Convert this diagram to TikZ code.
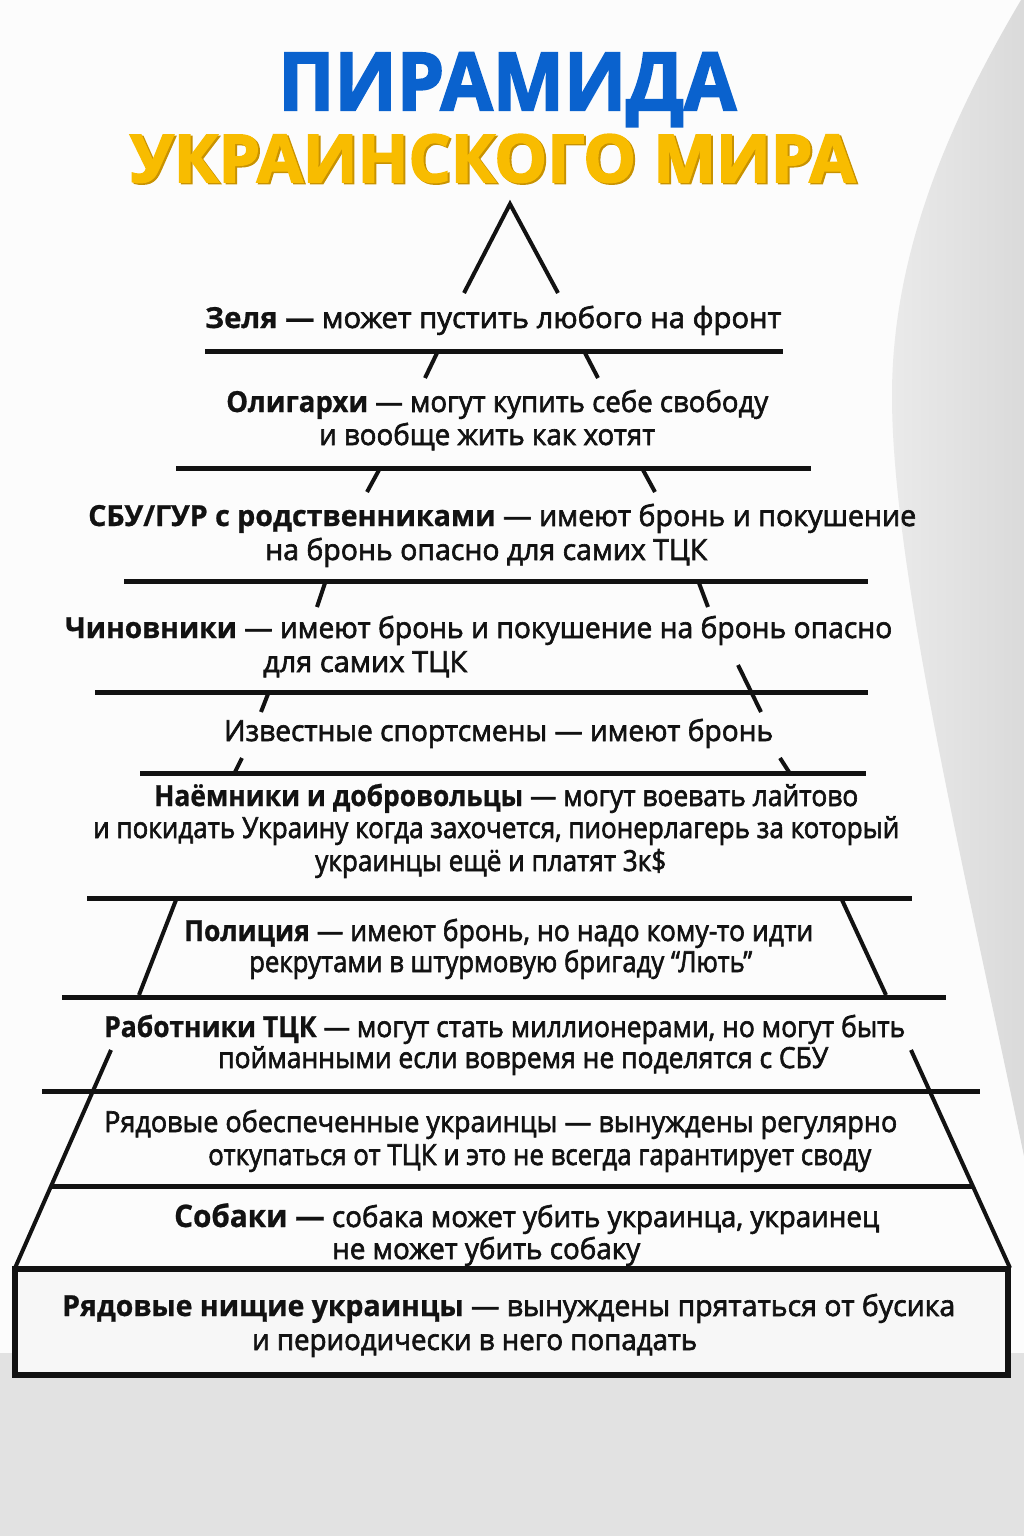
\documentclass[tikz,border=0pt]{standalone}
\usepackage{fontspec}
\usepackage{graphicx}
\setmainfont{Open Sans}
\newfontfamily\descfont[FakeBold=2.2]{Open Sans}
\newfontfamily\namefont[FakeBold=0.8]{Open Sans}
\newfontfamily\titlefont[FakeBold=2.5]{Open Sans}
\definecolor{ink}{HTML}{121212}
\definecolor{tblue}{HTML}{0A62CE}
\definecolor{tyellow}{HTML}{F8BC00}
\definecolor{tshadow}{HTML}{C89200}
\definecolor{bgwhite}{HTML}{FCFCFC}
\definecolor{bandgrey}{HTML}{DADADA}
\definecolor{bandlight}{HTML}{EAEAEA}
\definecolor{botgrey}{HTML}{E2E2E2}
\definecolor{boxfill}{HTML}{F7F7F7}
\newcommand{\fitw}[2]{\resizebox{#1pt}{\height}{#2}}
\newcommand{\nm}[1]{{\namefont\bfseries #1}}
\begin{document}
\begin{tikzpicture}[x=1pt,y=-1pt,
  hline/.style={line width=5pt, draw=ink},
  slant/.style={line width=4pt, draw=ink},
  txt/.style={inner sep=0pt, anchor=base west, text=ink, font=\descfont\fontsize{29}{31}\selectfont},
  ttl/.style={inner sep=0pt, anchor=base west, font=\titlefont\bfseries}]
\useasboundingbox (0,0) rectangle (1024,1536);
% background
\fill[bgwhite] (0,0) rectangle (1024,1536);
\shade[left color=bandlight, right color=bandgrey]
  (1024,0) -- (1021,0) .. controls (950,120) and (893,250) .. (892,392)
  .. controls (891,560) and (960,850) .. (1024,1156) -- cycle;
\fill[botgrey] (0,1353) rectangle (1024,1536);

% title
\node[ttl, text=tblue] (t1) at (278,110) {\fitw{458}{\fontsize{80}{80}\selectfont ПИРАМИДА}};
\node[ttl, text=tshadow] (t2s) at (132,183.5) {\fitw{725}{\fontsize{66}{66}\selectfont УКРАИНСКОГО МИРА}};
\node[ttl, text=tyellow] (t2) at (130,182) {\fitw{725}{\fontsize{66}{66}\selectfont УКРАИНСКОГО МИРА}};

% apex
\coordinate (apL) at (464,293);
\coordinate (apT) at (510,204);
\coordinate (apR) at (558,293);
\draw[slant, line join=miter] (apL) -- (apT) -- (apR);

% level lines
\coordinate (l1a) at (205,351); \coordinate (l1b) at (783,351);
\coordinate (l2a) at (176,468); \coordinate (l2b) at (811,468);
\coordinate (l3a) at (124,581); \coordinate (l3b) at (868,581);
\coordinate (l4a) at (95,692);  \coordinate (l4b) at (868,692);
\coordinate (l5a) at (140,773); \coordinate (l5b) at (866,773);
\coordinate (l6a) at (87,898);  \coordinate (l6b) at (912,898);
\coordinate (l7a) at (62,997);  \coordinate (l7b) at (946,997);
\coordinate (l8a) at (42,1091); \coordinate (l8b) at (980,1091);
\coordinate (l9a) at (52,1186); \coordinate (l9b) at (972,1186);
\foreach \i in {1,...,9} \draw[hline] (l\i a) -- (l\i b);

% short slants
\draw[slant] (437,353) -- (425,378);
\draw[slant] (585,353) -- (598,378);
\draw[slant] (379,470) -- (367,492);
\draw[slant] (643,470) -- (655,492);
\draw[slant] (325,583) -- (317,607);
\draw[slant] (699,583) -- (708,607);
\draw[slant] (268,694) -- (261,712);
\draw[slant] (738,665) -- (761,712);
\draw[slant] (242,758) -- (235,772);
\draw[slant] (780,758) -- (789,772);

% police trapezoid sides
\draw[slant] (176,900) -- (139,995);
\draw[slant] (842,900) -- (886,995);

% lower trapezoid sides
\draw[slant] (111,1050) -- (15,1268);
\draw[slant] (911,1050) -- (1010,1268);

% bottom box
\draw[line width=6pt, draw=ink, fill=boxfill] (15,1269) rectangle (1008,1375);

% texts
\node[txt] (z1) at (205,328) {\fitw{576}{\nm{Зеля —} может пустить любого на фронт}};
\node[txt] (o1) at (226,412) {\fitw{542}{\nm{Олигархи} — могут купить себе свободу}};
\node[txt] (o2) at (319,445) {\fitw{336}{и вообще жить как хотят}};
\node[txt] (s1) at (88,526) {\fitw{828}{\nm{СБУ/ГУР с родственниками} — имеют бронь и покушение}};
\node[txt] (s2) at (265,560) {\fitw{442}{на бронь опасно для самих ТЦК}};
\node[txt] (c1) at (65,638) {\fitw{827}{\nm{Чиновники} — имеют бронь и покушение на бронь опасно}};
\node[txt] (c2) at (263,672) {\fitw{204}{для самих ТЦК}};
\node[txt] (i1) at (224,741) {\fitw{549}{Известные спортсмены — имеют бронь}};
\node[txt] (n1) at (154,806) {\fitw{704}{\nm{Наёмники и добровольцы} — могут воевать лайтово}};
\node[txt] (n2) at (93,838) {\fitw{806}{и покидать Украину когда захочется, пионерлагерь за который}};
\node[txt] (n3) at (315,871) {\fitw{351}{украинцы ещё и платят 3к\$}};
\node[txt] (p1) at (184,941) {\fitw{629}{\nm{Полиция} — имеют бронь, но надо кому-то идти}};
\node[txt] (p2) at (249,972) {\fitw{503}{рекрутами в штурмовую бригаду “Лють”}};
\node[txt] (r1) at (104,1037) {\fitw{801}{\nm{Работники ТЦК} — могут стать миллионерами, но могут быть}};
\node[txt] (r2) at (218,1068) {\fitw{610}{пойманными если вовремя не поделятся с СБУ}};
\node[txt] (u1) at (104,1132) {\fitw{793}{Рядовые обеспеченные украинцы — вынуждены регулярно}};
\node[txt] (u2) at (208,1165) {\fitw{663}{откупаться от ТЦК и это не всегда гарантирует своду}};
\node[txt] (d1) at (174,1227) {\fitw{705}{\nm{\fontsize{31}{33}\selectfont Собаки —} собака может убить украинца, украинец}};
\node[txt] (d2) at (332,1259) {\fitw{308}{не может убить собаку}};
\node[txt] (b1) at (62,1316) {\fitw{893}{\nm{Рядовые нищие украинцы} — вынуждены прятаться от бусика}};
\node[txt] (b2) at (252,1350) {\fitw{445}{и периодически в него попадать}};
\end{tikzpicture}
\end{document}
